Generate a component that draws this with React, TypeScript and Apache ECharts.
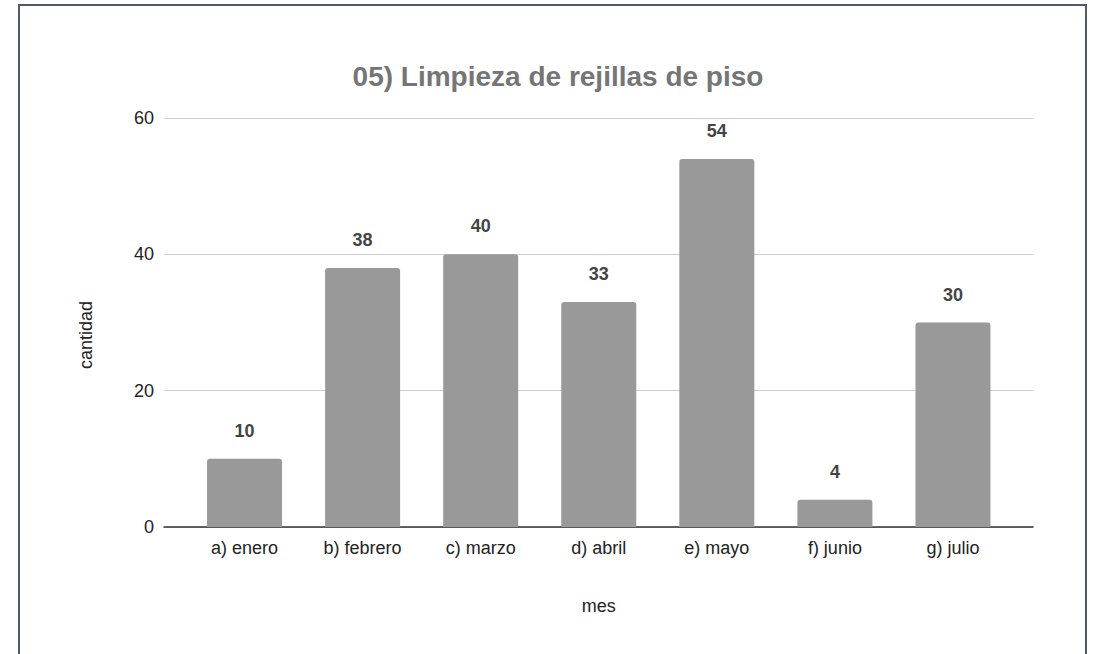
import React, { useEffect, useRef } from "react";
import * as echarts from "echarts";

const categories = ["a) enero", "b) febrero", "c) marzo", "d) abril", "e) mayo", "f) junio", "g) julio"];
const values = [10, 38, 40, 33, 54, 4, 30];
const yTicks = { min: 0, max: 60, interval: 20 };
const titleText = "05) Limpieza de rejillas de piso";
const yName = "cantidad";
const xName = "mes";

export default function App() {
  const ref = useRef<HTMLDivElement>(null);
  useEffect(() => {
    if (!ref.current) return;
    const chart = echarts.init(ref.current, null, { renderer: "svg" });
    const font = "'Liberation Sans', Arial, sans-serif";
    const txt = { fontFamily: font, fontSize: 18, color: "#222" };
    chart.setOption({
      animation: false,
      backgroundColor: "#ffffff",
      textStyle: { fontFamily: font },
      title: {
        text: titleText,
        left: 553,
        textAlign: "center",
        top: 57,
        textStyle: { fontFamily: font, fontSize: 28, fontWeight: "bold", color: "#757575" },
      },
      graphic: [
        {
          type: "rect",
          shape: { x: 19, y: 5, width: 1067, height: 700 },
          style: { fill: "none", stroke: "#4b5a6f", lineWidth: 2 },
          silent: true,
        },
        {
          type: "text",
          x: 86,
          y: 335,
          rotation: Math.PI / 2,
          style: {
            text: yName,
            fontFamily: font,
            fontSize: 18,
            fill: "#222",
            align: "center",
            verticalAlign: "middle",
          },
          silent: true,
        },
      ],
      grid: [
        { left: 164, right: 63, top: 118, bottom: 127 },
        { left: 185.5, right: 84, top: 118, bottom: 127 },
      ],
      xAxis: [
        {
          type: "category",
          gridIndex: 0,
          data: categories,
          axisLine: { lineStyle: { color: "#333", width: 1.5 } },
          axisTick: { show: false },
          axisLabel: { show: false },
          splitLine: { show: false },
        },
        {
          type: "category",
          gridIndex: 1,
          data: categories,
          name: xName,
          nameLocation: "middle",
          nameGap: 70,
          nameTextStyle: txt,
          axisLine: { show: false },
          axisTick: { show: false },
          axisLabel: { ...txt, margin: 12 },
        },
      ],
      yAxis: [
        {
          type: "value",
          gridIndex: 0,
          ...yTicks,
          axisLine: { show: false },
          axisTick: { show: false },
          axisLabel: { ...txt, margin: 10 },
          splitLine: { lineStyle: { color: "#cccccc", width: 1 } },
        },
        {
          type: "value",
          gridIndex: 1,
          ...yTicks,
          axisLine: { show: false },
          axisTick: { show: false },
          axisLabel: { show: false },
          splitLine: { show: false },
        },
      ],
      series: [
        {
          type: "bar",
          xAxisIndex: 1,
          yAxisIndex: 1,
          data: values,
          barWidth: 75,
          itemStyle: { color: "#999999", borderRadius: [3, 3, 0, 0] },
          label: {
            show: true,
            position: "top",
            distance: 19,
            fontFamily: font,
            fontSize: 18,
            fontWeight: "bold",
            color: "#444",
          },
        },
      ],
    });
    return () => chart.dispose();
  }, []);
  return <div ref={ref} style={{ position: "absolute", left: 0, top: 0, width: 1096, height: 654 }} />;
}
